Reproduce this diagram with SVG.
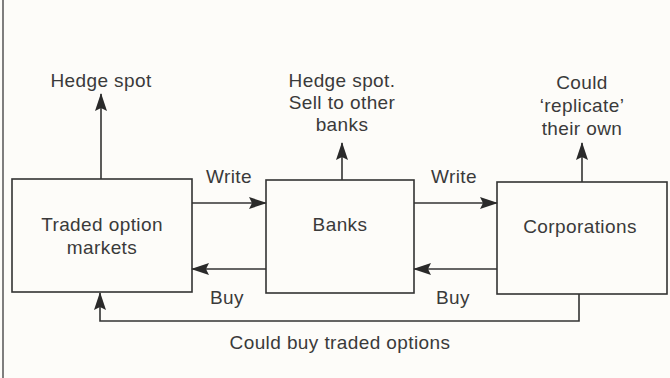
<svg xmlns="http://www.w3.org/2000/svg" width="670" height="378" viewBox="0 0 670 378">
<defs>
<marker id="ah" markerWidth="18" markerHeight="12" refX="17" refY="6" orient="auto" markerUnits="userSpaceOnUse">
<path d="M0,0 L18,6 L0,12 L3,6 Z" fill="#2a2a2a"/>
</marker>
</defs>
<style>
.box{fill:none;stroke:#333;stroke-width:1.6}
.ln{fill:none;stroke:#333;stroke-width:1.6}
.t{font-family:"Liberation Sans",Arial,sans-serif;font-size:19px;letter-spacing:0.4px;fill:#3a3a3a;text-anchor:middle}
</style>
<rect width="670" height="378" fill="#fdfcf9"/>
<line x1="3" y1="0" x2="3" y2="378" stroke="#555" stroke-width="1.5"/>
<g id="connectors">
<line class="ln" x1="101" y1="179" x2="101" y2="94" marker-end="url(#ah)"/>
<line class="ln" x1="342" y1="180" x2="342" y2="143" marker-end="url(#ah)"/>
<line class="ln" x1="582" y1="182" x2="582" y2="143" marker-end="url(#ah)"/>
<line class="ln" x1="192" y1="203" x2="266" y2="203" marker-end="url(#ah)"/>
<line class="ln" x1="414" y1="203" x2="497" y2="203" marker-end="url(#ah)"/>
<line class="ln" x1="266" y1="269" x2="192" y2="269" marker-end="url(#ah)"/>
<line class="ln" x1="497" y1="269" x2="414" y2="269" marker-end="url(#ah)"/>
<polyline class="ln" points="579,294 579,321 100,321 100,293" marker-end="url(#ah)"/>
<text class="t" x="229" y="183">Write</text>
<text class="t" x="454" y="183">Write</text>
<text class="t" x="227" y="304">Buy</text>
<text class="t" x="453" y="304">Buy</text>
<text class="t" x="340" y="349">Could buy traded options</text>
<text class="t" x="101" y="87">Hedge spot</text>
<text class="t" x="342" y="87">Hedge spot.</text>
<text class="t" x="342" y="109">Sell to other</text>
<text class="t" x="342" y="131">banks</text>
<text class="t" x="582" y="89">Could</text>
<text class="t" x="582" y="112">‘replicate’</text>
<text class="t" x="582" y="135">their own</text>
</g>
<g id="traded">
<rect class="box" x="12" y="179" width="180" height="113"/>
<text class="t" x="102" y="231">Traded option</text>
<text class="t" x="102" y="254">markets</text>
</g>
<g id="banks">
<rect class="box" x="266" y="180" width="148" height="113"/>
<text class="t" x="340" y="231">Banks</text>
</g>
<g id="corporations">
<rect class="box" x="497" y="182" width="170" height="112"/>
<text class="t" x="580" y="233">Corporations</text>
</g>
</svg>
